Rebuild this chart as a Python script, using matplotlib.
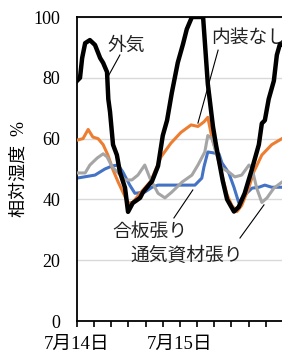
import numpy as np
import matplotlib
matplotlib.use("Agg")
import matplotlib.pyplot as plt

plt.rcParams['font.family'] = ['Liberation Serif', 'Noto Sans CJK JP', 'DejaVu Sans']

# hours since 7/14 0:00 and relative humidity [%]
outside_h = [0, 0.7, 1.2, 1.9, 3.0, 4.2, 5.4, 6.1, 7.0, 7.3, 7.7, 8.4, 9.3, 10.0,
             11.2, 11.9, 13.0, 14.7, 15.4, 17.5, 18.9, 20.0, 21.0, 22.1, 23.5,
             24.7, 25.6, 26.8, 29.4, 30.5, 31.7, 32.4, 34.0, 35.0, 36.6, 37.7,
             39.1, 40.8, 42.4, 43.1, 43.8, 44.7, 45.9, 46.6, 47.3, 47.8]
outside_v = [79, 80, 86.5, 91.4, 92.4, 90.8, 86.5, 84.9, 81.9, 73, 68.8, 58, 54.6, 49,
             43.8, 35.9, 38.8, 40.5, 42.4, 46, 51, 61, 66, 75, 85,
             91, 96, 100, 100, 78, 64, 58, 46, 40, 36, 37.5,
             42, 50, 58, 65, 66, 73, 79, 87.5, 91, 91]

bare_h = [0, 1.4, 2.6, 3.7, 4.9, 6.1, 7.2, 8.4, 9.6, 10.7, 11.9, 13.0, 14.7, 17.2,
          19.6, 21.9, 24.2, 26.6, 28.2, 29.6, 30.5, 31.5, 32.6, 33.8, 35.0, 36.1,
          37.3, 38.4, 40.1, 41.2, 43.1, 45.4, 47.8]
bare_v = [59.5, 60, 63, 60.5, 60, 58, 54.6, 49.7, 45.7, 42.4, 38.8, 39, 42, 46,
          54, 58.5, 62, 64.5, 64, 65.5, 67, 60, 55, 48, 41.5, 38,
          36, 38, 44, 49, 54.6, 58, 60]

plywood_h = [0, 4.2, 6.5, 8.2, 9.6, 10.7, 12.3, 13.5, 15.8, 17.5, 18.9, 27.5, 29.1,
             29.6, 30.5, 33.1, 33.8, 35.4, 36.6, 37.7, 39.1, 40.8, 42.4, 43.8,
             45.4, 47.8]
plywood_v = [47, 48, 50, 51, 51.3, 49, 44.7, 42, 42.4, 44, 44.7, 44.7, 47,
             50.7, 55.6, 55, 52, 48.7, 44, 39, 41.4, 43.7, 44, 44.7,
             44, 44]

vent_h = [0, 1.9, 3.0, 4.7, 6.1, 7.0, 8.2, 9.6, 11.2, 12.8, 14.2, 15.8, 17.0, 18.9,
          20.5, 22.1, 24.5, 26.8, 28.2, 29.8, 30.5, 31.5, 32.6, 33.8, 35.4, 36.8,
          38.4, 40.1, 40.8, 41.9, 43.1, 44.3, 45.9, 47.8]
vent_v = [48.7, 48.7, 51.3, 53.6, 55, 54, 50.7, 48.7, 46.4, 46.4, 48, 51.3, 47, 42,
          40.5, 42.4, 45.7, 48, 51.3, 55.6, 61, 60, 54.6, 50.3, 49, 47.4,
          48, 51.3, 50.3, 43.7, 39, 40.5, 43.7, 45.7]

fig = plt.figure(figsize=(2.82, 3.55), dpi=100)
ax = fig.add_axes([77/282, 1 - 321/355, 205/282, 304/355])

ax.plot(plywood_h, plywood_v, color="#4472C4", lw=2.2, zorder=2)
ax.plot(bare_h, bare_v, color="#ED7D31", lw=2.2, zorder=3)
ax.plot(vent_h, vent_v, color="#A5A5A5", lw=2.2, zorder=3)
ax.plot(outside_h, outside_v, color="black", lw=3.2, zorder=4)

ax.set_xlim(0, 47.8)
ax.set_ylim(0, 100)
ax.set_yticks([0, 20, 40, 60, 80, 100])
ax.yaxis.grid(True, color="#D9D9D9", lw=1)
ax.set_axisbelow(True)
ax.tick_params(axis="y", length=0, pad=12, labelsize=13)

xt = list(range(0, 48, 4))
ax.set_xticks(xt)
ax.set_xticklabels(["7月14日" if t == 0 else "7月15日" if t == 24 else "" for t in xt])
ax.tick_params(axis="x", length=4.5, width=1.2, pad=6, labelsize=13.5)

for s in ["left", "bottom", "top"]:
    ax.spines[s].set_color("black")
    ax.spines[s].set_linewidth(1.3)
ax.spines["right"].set_visible(False)

ax.set_ylabel("相対湿度  %", fontsize=13, labelpad=4)

# labels with leader lines
kw = dict(fontsize=13.5, va="center", ha="left", family=["Noto Sans CJK JP"], color="#222222")
ax.text(7.0, 90.8, "外気", **kw)
ax.plot([10.0, 7.2], [87.5, 80.3], color="black", lw=0.8, zorder=5)
ax.text(31.2, 93, "内装なし", clip_on=False, **kw)
ax.plot([32.9, 28.2], [89.1, 65.1], color="black", lw=0.8, zorder=5)
ax.text(8.2, 29.3, "合板張り", **kw)
ax.plot([27.0, 22.6], [43.1, 33.9], color="black", lw=0.8, zorder=5)
ax.text(12.4, 21.7, "通気資材張り", **kw)
ax.plot([43.6, 38.0], [38.2, 27.3], color="black", lw=0.8, zorder=5)

fig.savefig("out.png", dpi=100)
